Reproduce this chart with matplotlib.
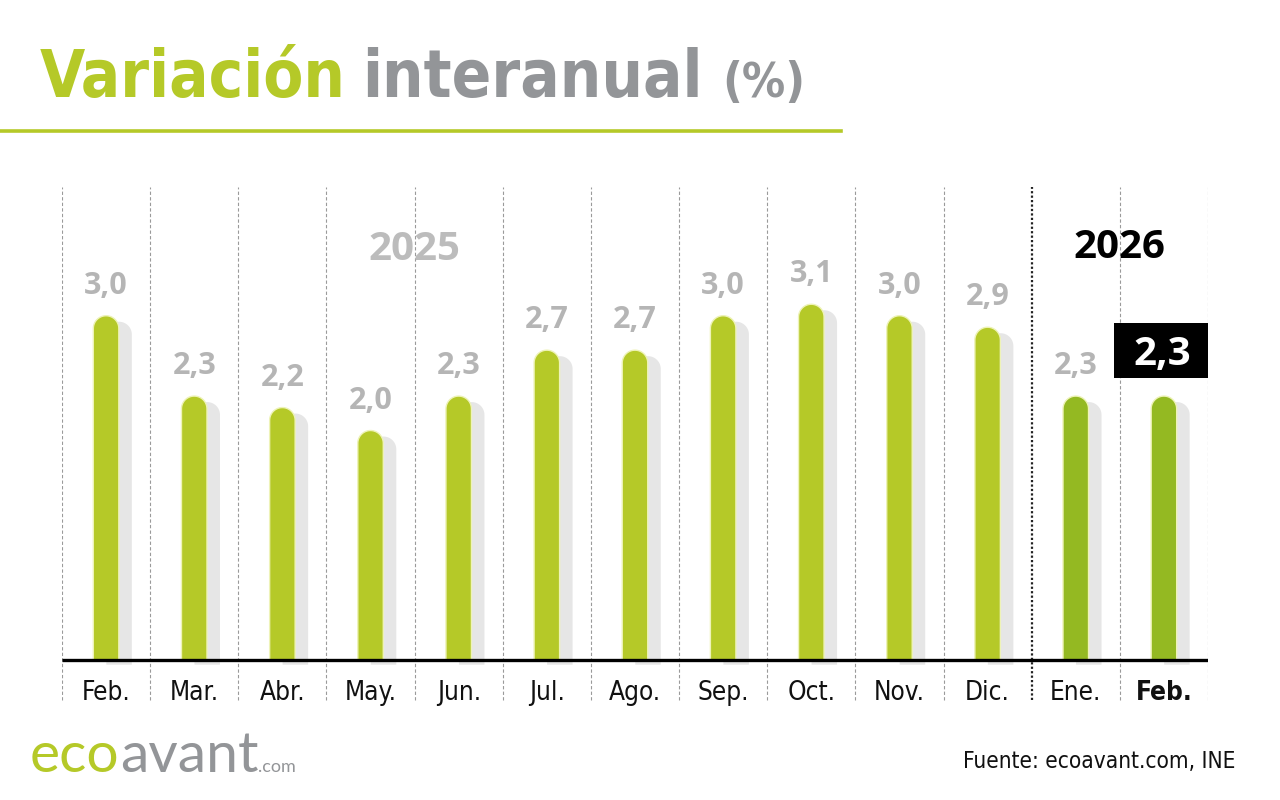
import matplotlib
matplotlib.use("Agg")
import matplotlib.pyplot as plt
from matplotlib.path import Path
from matplotlib.patches import PathPatch, Rectangle
from matplotlib import font_manager as fm
import numpy as np

# ---------------- data ----------------
months = ["Feb.", "Mar.", "Abr.", "May.", "Jun.", "Jul.", "Ago.", "Sep.", "Oct.", "Nov.", "Dic.", "Ene.", "Feb."]
values = [3.0, 2.3, 2.2, 2.0, 2.3, 2.7, 2.7, 3.0, 3.1, 3.0, 2.9, 2.3, 2.3]
years = ["2025", "2026"]
n_2025 = 11
title_a = "Variación"
title_b = "interanual"
title_c = "(%)"
source = "Fuente: ecoavant.com, INE"

GREEN = "#b5c928"
GREEN26 = "#94b922"
TGRAY = "#939598"
LGRAY = "#b5b5b5"
SHADOW = "#e6e6e6"
OPEN = ["Open Sans", "DejaVu Sans"]

# find a condensed font if one is installed
COND = None
COND_STRETCH = "normal"
for fam, st in [("Open Sans", "condensed"), ("Roboto", "condensed"), ("Noto Sans", "condensed"),
                ("DejaVu Sans", "condensed"), ("Liberation Sans Narrow", "normal")]:
    try:
        f = fm.findfont(fm.FontProperties(family=fam, stretch=st, weight="bold"), fallback_to_default=False)
        if ("ondensed" in f) or ("Narrow" in f):
            COND, COND_STRETCH = fam, st
            break
    except Exception:
        pass
TFAM = [COND, "DejaVu Sans"] if COND else OPEN
TSTR = COND_STRETCH if COND else "normal"

W, H = 1280, 800
fig = plt.figure(figsize=(12.8, 8), dpi=100)
fig.patch.set_facecolor("white")
R = fig.canvas.get_renderer()

def fx(px):
    return px / W

def fy(py):
    return 1 - py / H

def fit(t, target_px, max_fs=None):
    w = t.get_window_extent(R).width
    fs = t.get_fontsize() * target_px / w
    if max_fs is not None:
        fs = min(fs, max_fs)
    t.set_fontsize(fs)
    return t

# axes
ymin, ymax = -0.4, 4.2
ax = fig.add_axes([fx(62), fy(706), fx(1208) - fx(62), fy(178) - fy(706)])
ax.set_xlim(0, len(months))
ax.set_ylim(ymin, ymax)
ax.axis("off")

ppx = (ax.get_position().width * W) / len(months)
ppy = (ax.get_position().height * H) / (ymax - ymin)

grid_top = 4.12
for i in range(len(months) + 1):
    if i == n_2025:
        ax.vlines(i, ymin + 0.05, grid_top, colors="#222222", linestyles=(0, (1, 1)), linewidth=1.6, zorder=1)
    else:
        ax.vlines(i, ymin + 0.05, grid_top, colors="#9a9a9a", linestyles=(0, (3, 2)), linewidth=0.8, zorder=1)

def rounded_bar(xc, top, bottom, w):
    rx = w / 2
    ry = rx * ppx / ppy
    t = np.linspace(0, np.pi, 40)
    verts = [(xc - rx, bottom), (xc + rx, bottom), (xc + rx, top - ry)]
    verts += [(xc + rx * np.cos(a), top - ry + ry * np.sin(a)) for a in t[1:]]
    verts += [(xc - rx, bottom), (xc - rx, bottom)]
    codes = [Path.MOVETO] + [Path.LINETO] * (len(verts) - 2) + [Path.CLOSEPOLY]
    return Path(verts, codes)

bw = 25.5 / ppx
sh_dx = 13 / ppx
sh_dy = 6 / ppy
month_fs = None
for i, v in enumerate(values):
    xc = i + 0.5
    col = GREEN if i < n_2025 else GREEN26
    ax.add_patch(PathPatch(rounded_bar(xc + sh_dx, v - sh_dy, -0.04, bw), facecolor=SHADOW, edgecolor="none", zorder=2))
    ax.add_patch(PathPatch(rounded_bar(xc, v, 0, bw), facecolor=col, edgecolor="#eef3b8", linewidth=1.0, zorder=3))
    lab = f"{v:.1f}".replace(".", ",")
    if i == len(values) - 1:
        cy = v + 46 / ppy
        ax.add_patch(Rectangle((xc - 0.02 - 48 / ppx, cy - 27.5 / ppy), 96 / ppx, 55 / ppy,
                               facecolor="black", edgecolor="none", zorder=4))
        ax.text(xc - 0.02, cy, lab, ha="center", va="center_baseline", fontsize=29, fontweight="bold",
                family=OPEN, color="white", zorder=5)
    else:
        ax.text(xc, v + 22 / ppy, lab, ha="center", va="baseline", fontsize=22, fontweight="bold",
                family=OPEN, color=LGRAY, zorder=5)
    tm = ax.text(xc, -40 / ppy, months[i], ha="center", va="baseline", fontsize=20,
                 fontweight="bold" if i == len(values) - 1 else "normal", family=TFAM, fontstretch=TSTR,
                 color="#111111", zorder=5)
    if month_fs is None:
        fit(tm, 49)
        month_fs = tm.get_fontsize()
    else:
        tm.set_fontsize(month_fs)

ax.hlines(0, 0, len(months) + 0.02, colors="black", linewidth=2.4, zorder=4)

ax.text(4, (660 - 249) / ppy, years[0], ha="center", va="center", fontsize=29, fontweight="bold", family=OPEN, color="#bcbcbc")
ax.text(12, (660 - 247) / ppy, years[1], ha="center", va="center", fontsize=29, fontweight="bold", family=OPEN, color="black")

# title
ta = fig.text(fx(40), fy(97), title_a, fontsize=64, fontweight="bold", family=TFAM, fontstretch=TSTR, color=GREEN, va="baseline", ha="left")
fit(ta, 306, 70)
tb = fig.text(fx(362), fy(97), title_b, fontsize=64, fontweight="bold", family=TFAM, fontstretch=TSTR, color=TGRAY, va="baseline", ha="left")
fit(tb, 340, 70)
tc = fig.text(fx(722), fy(97), title_c, fontsize=45, fontweight="bold", family=TFAM, fontstretch=TSTR, color=TGRAY, va="baseline", ha="left")
fit(tc, 83, 48)
fig.add_artist(plt.Line2D([0, fx(841)], [fy(131), fy(131)], color=GREEN, linewidth=2.6))

# source
ts = fig.text(fx(1235), fy(768), source, fontsize=18, family=TFAM, fontstretch=TSTR, color="#111111", ha="right", va="baseline")
fit(ts, 272)

# logo
LOGO = ["Lato", "DejaVu Sans"]
t1 = fig.text(fx(30), fy(772), "eco", fontsize=41, family=LOGO, color=GREEN, va="baseline", ha="left")
b1 = t1.get_window_extent(R)
t2 = fig.text(b1.x1 / W, fy(772), "avant", fontsize=41, family=LOGO, color=TGRAY, va="baseline", ha="left")
b2 = t2.get_window_extent(R)
fig.text(b2.x1 / W, fy(772), ".com", fontsize=13, family=LOGO, color=TGRAY, va="baseline", ha="left")

fig.savefig("out.png", dpi=100, facecolor="white")
